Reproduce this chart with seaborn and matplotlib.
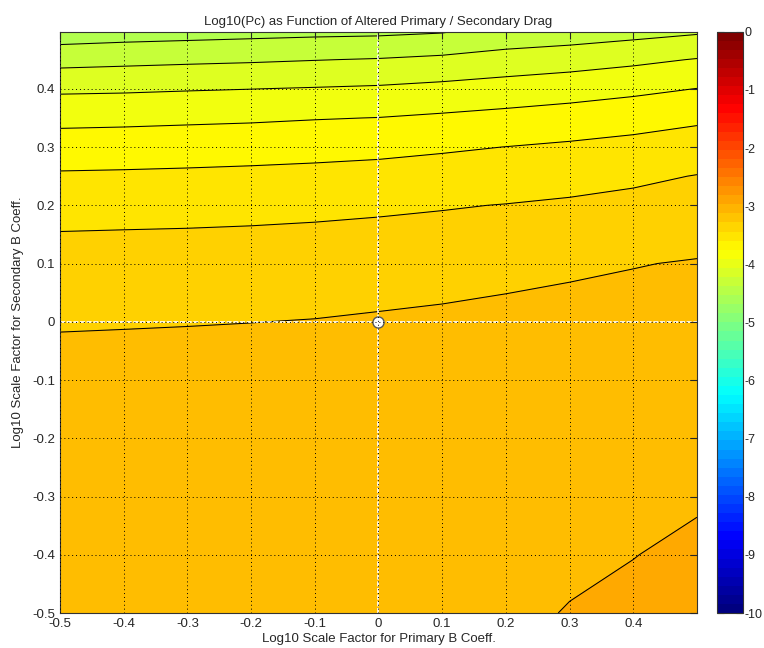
import matplotlib
matplotlib.use("Agg")
import matplotlib.pyplot as plt
import numpy as np
import seaborn as sns
from matplotlib.colors import Normalize, LinearSegmentedColormap
from matplotlib.cm import ScalarMappable

# Grid of log10 scale factors (primary along x, secondary along y)
primary_scale = [-0.5, -0.4, -0.3, -0.2, -0.1, 0.0, 0.1, 0.2, 0.3, 0.4, 0.5]
secondary_scale = [-0.5, -0.4, -0.3, -0.2, -0.1, 0.0, 0.1, 0.15, 0.2, 0.25, 0.3, 0.35, 0.4, 0.45, 0.5]

# Log10(Pc), one list per secondary scale value
log_pc_m050 = [-3.055, -3.052, -3.048, -3.044, -3.040, -3.036, -3.030, -3.023, -2.995, -2.966, -2.927]
log_pc_m040 = [-3.064, -3.060, -3.056, -3.053, -3.050, -3.045, -3.040, -3.035, -3.020, -3.003, -2.971]
log_pc_m030 = [-3.076, -3.072, -3.068, -3.065, -3.062, -3.058, -3.055, -3.050, -3.040, -3.037, -3.016]
log_pc_m020 = [-3.090, -3.087, -3.083, -3.080, -3.077, -3.073, -3.070, -3.065, -3.060, -3.070, -3.058]
log_pc_m010 = [-3.107, -3.100, -3.097, -3.100, -3.094, -3.090, -3.086, -3.082, -3.080, -3.105, -3.100]
log_pc_p000 = [-3.220, -3.215, -3.209, -3.202, -3.194, -3.179, -3.163, -3.138, -3.130, -3.140, -3.145]
log_pc_p010 = [-3.334, -3.329, -3.324, -3.318, -3.310, -3.298, -3.284, -3.267, -3.233, -3.206, -3.190]
log_pc_p015 = [-3.391, -3.386, -3.382, -3.376, -3.368, -3.357, -3.346, -3.331, -3.309, -3.282, -3.249]
log_pc_p020 = [-3.481, -3.474, -3.467, -3.457, -3.444, -3.429, -3.412, -3.395, -3.375, -3.352, -3.322]
log_pc_p025 = [-3.577, -3.572, -3.565, -3.556, -3.545, -3.532, -3.514, -3.495, -3.466, -3.433, -3.394]
log_pc_p030 = [-3.705, -3.698, -3.689, -3.679, -3.666, -3.650, -3.624, -3.598, -3.572, -3.543, -3.507]
log_pc_p035 = [-3.853, -3.846, -3.835, -3.825, -3.809, -3.797, -3.771, -3.744, -3.714, -3.677, -3.633]
log_pc_p040 = [-4.033, -4.026, -4.013, -4.002, -3.989, -3.975, -3.948, -3.915, -3.883, -3.844, -3.797]
log_pc_p045 = [-4.267, -4.250, -4.235, -4.222, -4.205, -4.189, -4.160, -4.120, -4.086, -4.042, -3.990]
log_pc_p050 = [-4.523, -4.500, -4.485, -4.469, -4.455, -4.447, -4.422, -4.342, -4.314, -4.274, -4.232]

contour_levels = [-4.6, -4.4, -4.2, -4.0, -3.8, -3.6, -3.4, -3.2, -3.0, -2.8]
tick_values = [-0.5, -0.4, -0.3, -0.2, -0.1, 0.0, 0.1, 0.2, 0.3, 0.4]
tick_labels = ["-0.5", "-0.4", "-0.3", "-0.2", "-0.1", "0", "0.1", "0.2", "0.3", "0.4"]
cbar_ticks = [0, -1, -2, -3, -4, -5, -6, -7, -8, -9, -10]

log_pc = np.vstack([
    log_pc_m050, log_pc_m040, log_pc_m030, log_pc_m020, log_pc_m010, log_pc_p000,
    log_pc_p010, log_pc_p015, log_pc_p020, log_pc_p025, log_pc_p030, log_pc_p035,
    log_pc_p040, log_pc_p045, log_pc_p050,
])

sns.set_style("white")
plt.rcParams["font.family"] = ["Liberation Sans", "DejaVu Sans"]
plt.rcParams["axes.unicode_minus"] = False
plt.rcParams["contour.negative_linestyle"] = "solid"

# MATLAB-style jet: smooth for the filled bands, 64 steps for the colorbar
jet_segments = {
    "red": [(0, 0, 0), (0.375, 0, 0), (0.625, 1, 1), (0.875, 1, 1), (1, 0.5, 0.5)],
    "green": [(0, 0, 0), (0.125, 0, 0), (0.375, 1, 1), (0.625, 1, 1), (0.875, 0, 0), (1, 0, 0)],
    "blue": [(0, 0.5, 0.5), (0.125, 1, 1), (0.375, 1, 1), (0.625, 0, 0), (1, 0, 0)],
}
fill_jet = LinearSegmentedColormap("matlab_jet", jet_segments, N=256)
bar_jet = LinearSegmentedColormap("matlab_jet64", jet_segments, N=64)
norm = Normalize(vmin=-10, vmax=0)

fig = plt.figure(figsize=(7.64, 6.48), dpi=100)
ax = fig.add_axes([0.0785, 0.054, 0.8338, 0.897])
cax = fig.add_axes([0.9385, 0.054, 0.034, 0.897])

ax.contourf(primary_scale, secondary_scale, log_pc, levels=contour_levels, cmap=fill_jet, norm=norm)
ax.contour(primary_scale, secondary_scale, log_pc, levels=contour_levels, colors="k",
           linewidths=0.75, linestyles="solid")

ax.set_xlim(-0.5, 0.5)
ax.set_ylim(-0.5, 0.498)
ax.set_xticks(tick_values, tick_labels)
ax.set_yticks(tick_values, tick_labels)
ax.tick_params(direction="in", length=5, width=0.8, top=True, right=True, labelsize=9.5, colors="0.15")
ax.grid(True, color="k", linestyle=(0, (1, 3)), linewidth=0.7)
ax.set_axisbelow(False)

# white reference lines and nominal point
ax.axvline(0, color="white", linestyle=(0, (3, 1)), linewidth=1.2)
ax.axhline(0, color="white", linestyle=(0, (3, 1)), linewidth=1.2)
ax.plot(0, 0, "o", markersize=8, markerfacecolor="white", markeredgecolor="0.35", markeredgewidth=1)

for sp in ax.spines.values():
    sp.set_color("0.2")
    sp.set_linewidth(0.8)

ax.set_title("Log10(Pc) as Function of Altered Primary / Secondary Drag", fontsize=9.5, pad=5)
ax.set_xlabel("Log10 Scale Factor for Primary B Coeff.", fontsize=9.5, labelpad=2)
ax.set_ylabel("Log10 Scale Factor for Secondary B Coeff.", fontsize=9.5, labelpad=6)

cb = fig.colorbar(ScalarMappable(norm=norm, cmap=bar_jet), cax=cax)
cb.set_ticks(cbar_ticks)
cb.set_ticklabels([str(t) for t in cbar_ticks])
cax.tick_params(direction="in", length=5, width=0.8, left=True, right=True, labelsize=9,
                pad=1, colors="0.15")
cb.outline.set_edgecolor("0.2")
cb.outline.set_linewidth(0.8)

fig.savefig("out.png", dpi=100, facecolor="white")
